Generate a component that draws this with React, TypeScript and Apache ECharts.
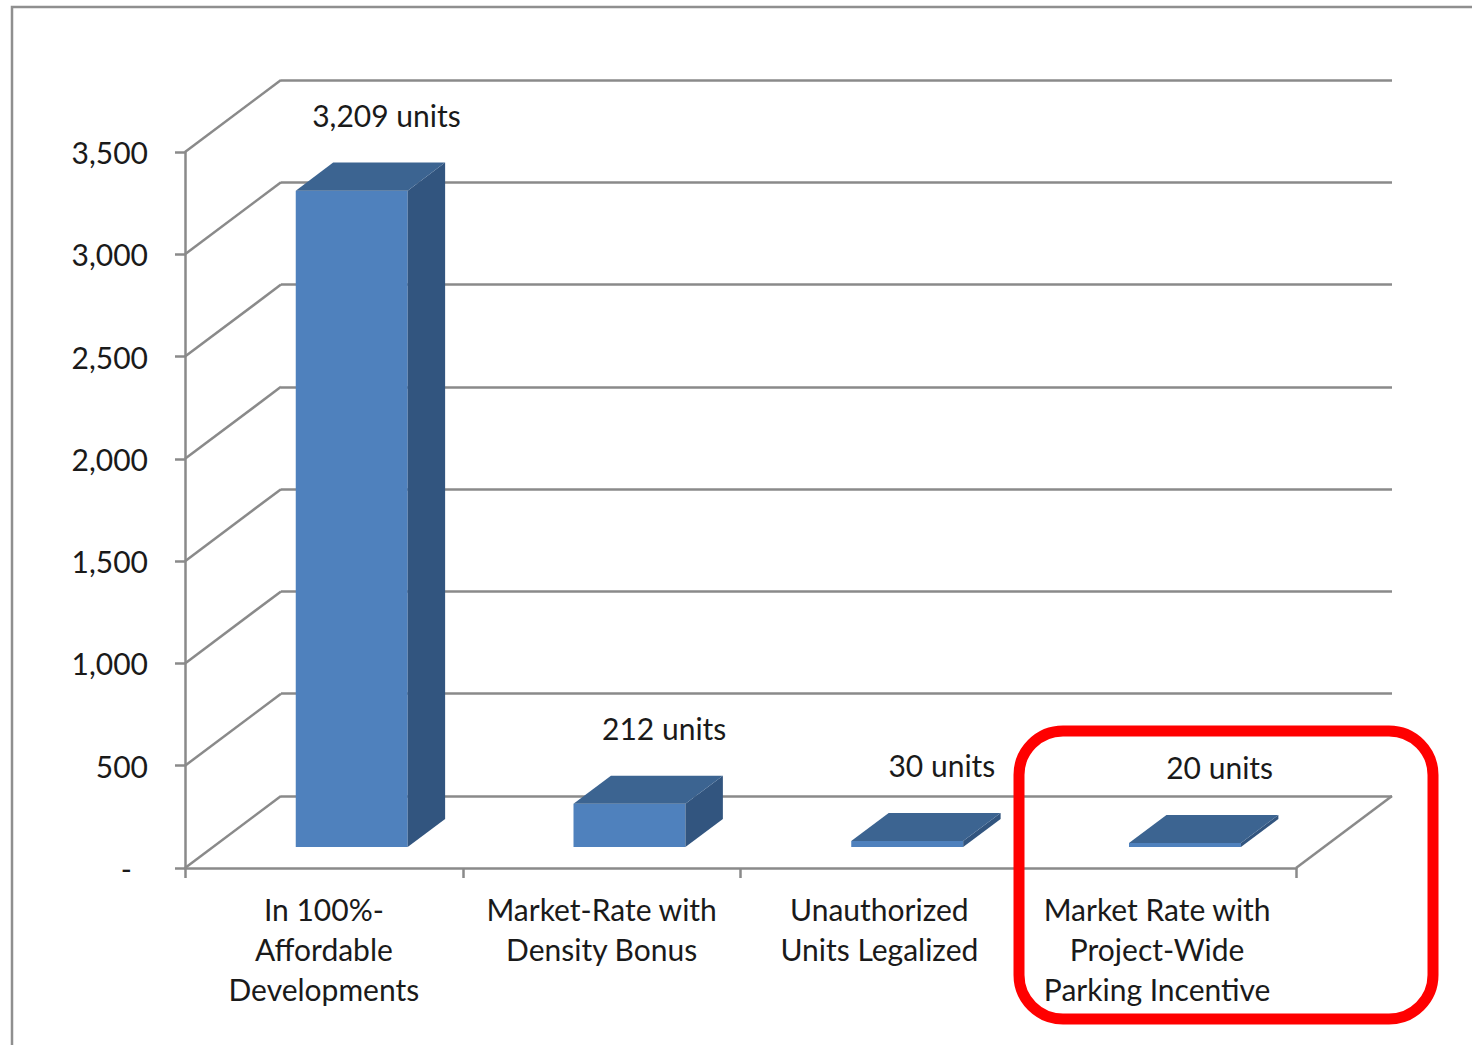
import React, { useEffect, useRef } from "react";
import * as echarts from "echarts";

// Units produced by each program path
const categories = [
  "In 100%-\nAffordable\nDevelopments",
  "Market-Rate with\nDensity Bonus",
  "Unauthorized\nUnits Legalized",
  "Market Rate with\nProject-Wide\nParking Incentive",
];
const unitCounts = [3209, 212, 30, 20];
const yTicks = [0, 500, 1000, 1500, 2000, 2500, 3000, 3500];
const Y_MAX = 3500;
const Y_STEP = 500;

// Oblique projection of the depth axis (pixels from the front plane to the back wall)
const DX = 96;
const DY = -72;
// Bars sit between these fractions of the full depth
const BAR_FRONT = 0.29;
const BAR_BACK = 0.68;
const BAR_WIDTH = 0.403;

const FONT = "Lato, 'Open Sans', sans-serif";
const FONT_SIZE = 30;
const TEXT = "#1a1a1a";
const GRID_GREY = "#8a8a8a";

const FRONT = { left: 185, top: 152, width: 1111, height: 716 };

export default function App() {
  const ref = useRef<HTMLDivElement>(null);

  useEffect(() => {
    if (!ref.current) return;
    const chart = echarts.init(ref.current, null, { renderer: "svg" });

    const fmt = (v: number) =>
      v === 0 ? "{dash|-}" : v.toLocaleString("en-US");

    const option: any = {
      animation: false,
      backgroundColor: "#ffffff",
      grid: [
        { ...FRONT },
        {
          left: FRONT.left + DX,
          top: FRONT.top + DY,
          width: FRONT.width,
          height: FRONT.height,
        },
      ],
      xAxis: [
        {
          type: "category",
          gridIndex: 0,
          data: categories,
          axisLine: { show: true, lineStyle: { color: GRID_GREY, width: 2.5 } },
          axisTick: { show: true, length: 10, lineStyle: { color: GRID_GREY, width: 2.5 } },
          axisLabel: {
            interval: 0,
            margin: 21,
            fontFamily: FONT,
            fontSize: FONT_SIZE,
            lineHeight: 40,
            color: TEXT,
          },
        },
        { type: "category", gridIndex: 1, data: categories, show: false },
      ],
      yAxis: [
        {
          type: "value",
          gridIndex: 0,
          min: 0,
          max: Y_MAX,
          interval: Y_STEP,
          axisLine: { show: true, lineStyle: { color: GRID_GREY, width: 2.5 } },
          axisTick: { show: true, length: 10, lineStyle: { color: GRID_GREY, width: 2.5 } },
          splitLine: { show: false },
          axisLabel: {
            margin: 37,
            fontFamily: FONT,
            fontSize: FONT_SIZE,
            color: TEXT,
            formatter: fmt,
            rich: {
              dash: { fontFamily: FONT, fontSize: FONT_SIZE, color: TEXT, padding: [0, 16, 0, 0] },
            },
          },
        },
        {
          type: "value",
          gridIndex: 1,
          min: 0,
          max: Y_MAX,
          interval: Y_STEP,
          axisLine: { show: false },
          axisTick: { show: false },
          axisLabel: { show: false },
          splitLine: { show: true, lineStyle: { color: GRID_GREY, width: 2.5 } },
        },
      ],
      series: [
        {
          // side-wall diagonals from each front tick to the back wall
          type: "custom",
          xAxisIndex: 0,
          yAxisIndex: 0,
          silent: true,
          z: 1,
          data: yTicks.map((t) => [0, t]),
          renderItem: (params: any, api: any) => {
            const p = api.coord([0, api.value(1)]);
            const x0 = params.coordSys.x;
            return {
              type: "line",
              shape: { x1: x0, y1: p[1], x2: x0 + DX, y2: p[1] + DY },
              style: { stroke: GRID_GREY, lineWidth: 2.5 },
            };
          },
        },
        {
          // right edge of the floor
          type: "custom",
          xAxisIndex: 0,
          yAxisIndex: 0,
          silent: true,
          z: 1,
          data: [[categories.length - 1, 0]],
          renderItem: (params: any, api: any) => {
            const p = api.coord([0, 0]);
            const x1 = params.coordSys.x + params.coordSys.width;
            return {
              type: "line",
              shape: { x1, y1: p[1], x2: x1 + DX, y2: p[1] + DY },
              style: { stroke: GRID_GREY, lineWidth: 2.5 },
            };
          },
        },
        {
          // 3-D bars with value labels
          type: "custom",
          xAxisIndex: 0,
          yAxisIndex: 0,
          z: 5,
          data: unitCounts.map((v, i) => [i, v]),
          renderItem: (params: any, api: any) => {
            const i = api.value(0);
            const v = api.value(1);
            const base = api.coord([i, 0]);
            const top = api.coord([i, v]);
            const catW = api.size([1, 0])[0];
            const w = catW * BAR_WIDTH;
            const fx = DX * BAR_FRONT;
            const fy = DY * BAR_FRONT;
            const bx = DX * (BAR_BACK - BAR_FRONT);
            const by = DY * (BAR_BACK - BAR_FRONT);
            const xl = base[0] - w / 2 + fx;
            const xr = xl + w;
            const yt = top[1] + fy;
            const yb = base[1] + fy;
            const label = v.toLocaleString("en-US") + " units";
            return {
              type: "group",
              children: [
                {
                  type: "polygon",
                  shape: { points: [[xl, yt], [xr, yt], [xr, yb], [xl, yb]] },
                  style: { fill: "#4f81bd" },
                },
                {
                  type: "polygon",
                  shape: { points: [[xr, yt], [xr, yb], [xr + bx, yb + by], [xr + bx, yt + by]] },
                  style: { fill: "#32557f" },
                },
                {
                  type: "polygon",
                  shape: { points: [[xl, yt], [xr, yt], [xr + bx, yt + by], [xl + bx, yt + by]] },
                  style: { fill: "#3c6491" },
                },
                {
                  type: "text",
                  style: {
                    x: (xl + xr + bx) / 2 + 16,
                    y: yt + by - 48,
                    text: label,
                    textAlign: "center",
                    textVerticalAlign: "middle",
                    fontFamily: FONT,
                    fontSize: FONT_SIZE,
                    fill: TEXT,
                  },
                },
              ],
            };
          },
        },
      ],
      graphic: [
        {
          type: "rect",
          silent: true,
          z: 0,
          shape: { x: 12, y: 7, width: 1600, height: 1200 },
          style: { fill: "none", stroke: "#8f8f8f", lineWidth: 2.5 },
        },
        {
          type: "rect",
          silent: true,
          z: 100,
          shape: { x: 1019, y: 731, width: 414, height: 288, r: 44 },
          style: { fill: "none", stroke: "#ff0000", lineWidth: 11 },
        },
      ],
    };

    chart.setOption(option);
    return () => chart.dispose();
  }, []);

  return (
    <div
      ref={ref}
      style={{ position: "fixed", left: 0, top: 0, width: 1472, height: 1045, background: "#fff" }}
    />
  );
}
